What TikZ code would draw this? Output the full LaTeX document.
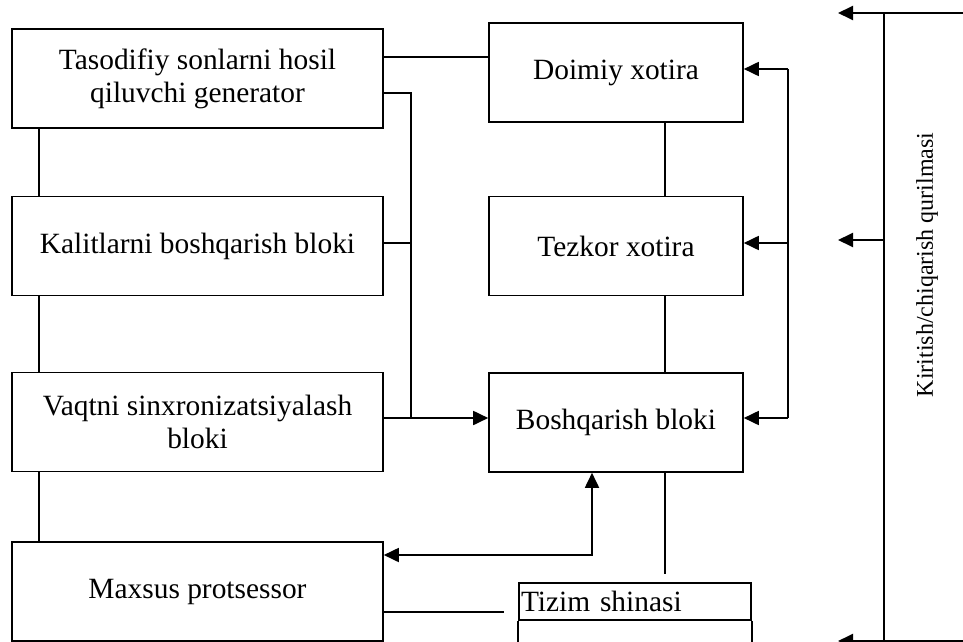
\documentclass[tikz,border=0pt]{standalone}
\usepackage{fontspec}
\setmainfont{Liberation Serif}
\usepackage{tikz}
\usetikzlibrary{arrows.meta}

\begin{document}
\begin{tikzpicture}[x=0.5pt,y=-0.5pt,line width=0.8pt,>={Triangle[length=7.5pt,width=7pt]},font=\fontsize{14.7}{16.5}\selectfont]
    \tikzstyle{block}=[draw,rectangle,align=center,inner sep=0pt]
    \tikzstyle{left block}=[block,minimum width=185.5pt,minimum height=49.5pt]
    \tikzstyle{right block}=[block,minimum width=127pt,minimum height=49.5pt]
    \tikzstyle{wire}=[line width=0.55pt]
    \tikzstyle{link}=[line width=0.9pt,->]
    \tikzstyle{bus}=[line width=1pt]

    \useasboundingbox (0,0) rectangle (963,642);

    % Left column
    \node[left block] (Gen) at (197.5,78.5) {Tasodifiy sonlarni hosil\\qiluvchi generator};
    \node[left block] (Key) at (197.5,246) {Kalitlarni boshqarish bloki};
    \node[left block] (Sync) at (197.5,422) {Vaqtni sinxronizatsiyalash\\bloki};
    \node[left block] (Proc) at (197.5,591.5) {Maxsus protsessor};

    % Right column
    \node[right block] (ROM) at (616,72.5) {Doimiy xotira};
    \node[right block] (RAM) at (616,246) {Tezkor xotira};
    \node[right block] (Ctrl) at (616,422.5) {Boshqarish bloki};

    % System bus
    \node[draw,minimum width=116pt,minimum height=18.5pt,text width=114pt,inner xsep=1pt,inner ysep=0pt,align=left] (Bus) at (635,601.5) {Tizim shinasi};

    % Input/output device
    \node[rotate=90,font=\fontsize{12}{14}\selectfont] (IO) at (927,265) {Kiritish/chiqarish qurilmasi};

    \coordinate (L) at (39,0);
    \coordinate (J) at (411,418);
    \coordinate (R1) at (788,69);
    \coordinate (R2) at (788,243);
    \coordinate (R3) at (788,418);
    \coordinate (IO-top) at (884,13);
    \coordinate (IO-mid) at (884,240);
    \coordinate (IO-bot) at (884,641);
    \coordinate (IO-in) at (963,13);
    \coordinate (IO-out) at (963,641);

    % Left chain
    \draw[wire] (Gen.south -| L) -- (Key.north -| L);
    \draw[wire] (Key.south -| L) -- (Sync.north -| L);
    \draw[wire] (Sync.south -| L) -- (Proc.north -| L);

    \draw[wire] ([yshift=10.75pt]Gen.east) -- ([yshift=7.75pt]ROM.west);
    \draw[wire] ([yshift=-7.25pt]Gen.east) -| (J);
    \draw[wire] ([yshift=1.5pt]Key.east) -- ++(28,0);
    \draw[link] (J -| Sync.east) -- (J -| Ctrl.west);

    % Memory chain
    \draw[wire] ([xshift=24.5pt]ROM.south) -- ([xshift=24.5pt]RAM.north);
    \draw[wire] ([xshift=24.5pt]RAM.south) -- ([xshift=24.5pt]Ctrl.north);

    \draw[link,-] (R1) -- (R3);
    \draw[link] (R1) -- (R1 -| ROM.east);
    \draw[link] (R2) -- (R2 -| RAM.east);
    \draw[link] (R3) -- (R3 -| Ctrl.east);

    \draw[link,<->] ([yshift=18.25pt]Proc.east) -| ([xshift=-12pt]Ctrl.south);
    \draw[wire] ([xshift=24.5pt]Ctrl.south) -- ++(0,101);
    \draw[wire] ([yshift=-10.25pt]Proc.east) -- ++(120,0);
    \draw (Bus.south west) -- ++(0,22);
    \draw (Bus.south east) -- ++(0,22);

    % I/O lines
    \draw[bus] (IO-top) -- (IO-bot);
    \draw[bus] (IO-top) -- (IO-in);
    \draw[bus] (IO-bot) -- (IO-out);
    \draw[bus,->] (IO-top) -- ++(-46,0);
    \draw[bus,->] (IO-mid) -- ++(-46,0);
    \draw[bus,->] (IO-bot) -- ++(-46,0);
\end{tikzpicture}
\end{document}
